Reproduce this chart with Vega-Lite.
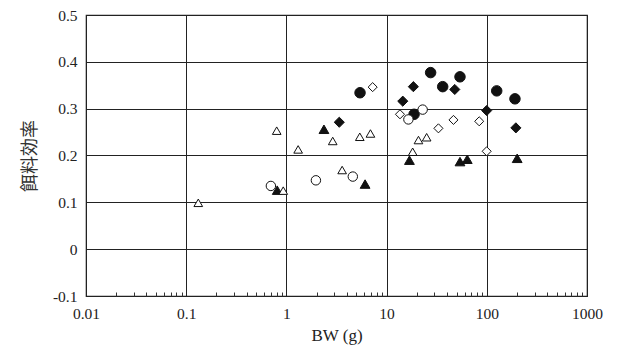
{
  "$schema": "https://vega.github.io/schema/vega-lite/v6.json",
  "autosize": "none",
  "width": 501,
  "height": 281,
  "padding": {"left": 86, "top": 15, "right": 31, "bottom": 65},
  "background": "white",
  "config": {
    "view": {"stroke": "#222", "strokeWidth": 1.2},
    "axis": {"labelFont": "Liberation Serif", "titleFont": "Liberation Serif", "labelColor": "#222", "titleColor": "#222", "labelFontSize": 15.5, "titleFontSize": 17, "titleFontWeight": "normal", "domain": false}
  },
  "data": {
    "values": [
      {"bw": 5.43, "fe": 0.334, "s": "fc"},
      {"bw": 27.5, "fe": 0.377, "s": "fc"},
      {"bw": 36.3, "fe": 0.347, "s": "fc"},
      {"bw": 54, "fe": 0.368, "s": "fc"},
      {"bw": 18.8, "fe": 0.288, "s": "fc"},
      {"bw": 125.6, "fe": 0.338, "s": "fc"},
      {"bw": 191, "fe": 0.321, "s": "fc"},
      {"bw": 3.37, "fe": 0.271, "s": "fd"},
      {"bw": 14.5, "fe": 0.316, "s": "fd"},
      {"bw": 18.5, "fe": 0.347, "s": "fd"},
      {"bw": 47.9, "fe": 0.341, "s": "fd"},
      {"bw": 99.7, "fe": 0.296, "s": "fd"},
      {"bw": 195, "fe": 0.259, "s": "fd"},
      {"bw": 0.81, "fe": 0.126, "s": "ft"},
      {"bw": 2.37, "fe": 0.256, "s": "ft"},
      {"bw": 6.1, "fe": 0.139, "s": "ft"},
      {"bw": 16.9, "fe": 0.19, "s": "ft"},
      {"bw": 54, "fe": 0.187, "s": "ft"},
      {"bw": 63.8, "fe": 0.192, "s": "ft"},
      {"bw": 201, "fe": 0.194, "s": "ft"},
      {"bw": 0.7, "fe": 0.135, "s": "oc"},
      {"bw": 1.97, "fe": 0.147, "s": "oc"},
      {"bw": 4.6, "fe": 0.155, "s": "oc"},
      {"bw": 16.5, "fe": 0.277, "s": "oc"},
      {"bw": 22.9, "fe": 0.298, "s": "oc"},
      {"bw": 7.26, "fe": 0.346, "s": "od"},
      {"bw": 13.6, "fe": 0.288, "s": "od"},
      {"bw": 32.9, "fe": 0.258, "s": "od"},
      {"bw": 46.5, "fe": 0.276, "s": "od"},
      {"bw": 84, "fe": 0.273, "s": "od"},
      {"bw": 99.7, "fe": 0.209, "s": "od"},
      {"bw": 0.132, "fe": 0.099, "s": "ot"},
      {"bw": 0.8, "fe": 0.253, "s": "ot"},
      {"bw": 0.93, "fe": 0.125, "s": "ot"},
      {"bw": 1.31, "fe": 0.213, "s": "ot"},
      {"bw": 2.9, "fe": 0.231, "s": "ot"},
      {"bw": 3.6, "fe": 0.169, "s": "ot"},
      {"bw": 5.4, "fe": 0.24, "s": "ot"},
      {"bw": 6.9, "fe": 0.247, "s": "ot"},
      {"bw": 18.2, "fe": 0.208, "s": "ot"},
      {"bw": 20.8, "fe": 0.233, "s": "ot"},
      {"bw": 25.1, "fe": 0.239, "s": "ot"}
    ]
  },
  "mark": {"type": "point", "opacity": 1, "strokeWidth": 1, "stroke": "#111"},
  "encoding": {
    "x": {
      "field": "bw", "type": "quantitative",
      "scale": {"type": "log", "domain": [0.01, 1000], "nice": false},
      "axis": {
        "title": "BW (g)",
        "titlePadding": 6,
        "values": [0.01, 0.02, 0.03, 0.04, 0.05, 0.06, 0.07, 0.08, 0.09, 0.1, 0.2, 0.3, 0.4, 0.5, 0.6, 0.7, 0.8, 0.9, 1, 2, 3, 4, 5, 6, 7, 8, 9, 10, 20, 30, 40, 50, 60, 70, 80, 90, 100, 200, 300, 400, 500, 600, 700, 800, 900, 1000],
        "labelExpr": "indexof([0.01,0.1,1,10,100,1000], datum.value) >= 0 ? format(datum.value, '~g') : ''",
        "labelPadding": 10,
        "labelFlush": false,
        "labelOverlap": false,
        "tickColor": "#333",
        "tickSize": {"condition": {"test": "indexof([0.01,0.1,1,10,100,1000], datum.value) >= 0", "value": 0}, "value": -4},
        "grid": true,
        "gridColor": "#222",
        "gridWidth": 1,
        "gridOpacity": {"condition": {"test": "indexof([0.01,0.1,1,10,100,1000], datum.value) >= 0", "value": 1}, "value": 0}
      }
    },
    "y": {
      "field": "fe", "type": "quantitative",
      "scale": {"domain": [-0.1, 0.5], "nice": false, "zero": false},
      "axis": {
        "title": "餌料効率",
        "titleFont": "Noto Sans CJK JP",
        "titleFontSize": 18,
        "titleColor": "#333",
        "titlePadding": 13,
        "values": [-0.1, 0, 0.1, 0.2, 0.3, 0.4, 0.5],
        "labelExpr": "datum.value == 0 ? '0' : replace(format(datum.value, '.1f'), '−', '-')",
        "ticks": false,
        "labelPadding": 9,
        "grid": true,
        "gridColor": "#222",
        "gridWidth": 1
      }
    },
    "shape": {
      "field": "s", "type": "nominal", "legend": null,
      "scale": {"domain": ["fc", "fd", "ft", "oc", "od", "ot"], "range": ["circle", "diamond", "triangle-up", "circle", "diamond", "triangle-up"]}
    },
    "fill": {
      "field": "s", "type": "nominal", "legend": null,
      "scale": {"domain": ["fc", "fd", "ft", "oc", "od", "ot"], "range": ["#111", "#111", "#111", "white", "white", "white"]}
    },
    "size": {
      "field": "s", "type": "nominal", "legend": null,
      "scale": {"domain": ["fc", "fd", "ft", "oc", "od", "ot"], "range": [110, 75, 80, 100, 70, 85]}
    }
  }
}
